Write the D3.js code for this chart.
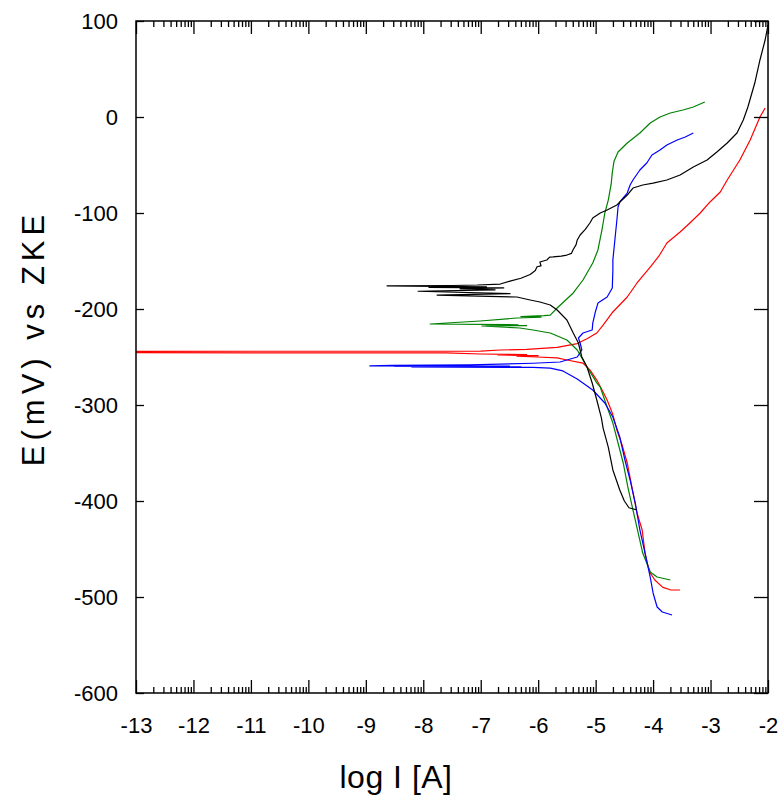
<!DOCTYPE html>
<html>
<head>
<meta charset="utf-8">
<script src="https://cdn.jsdelivr.net/npm/d3@7"></script>
<style>
  body { margin: 0; background: #fff; }
  text { font-family: Arial, "Liberation Sans", sans-serif; fill: #000; }
</style>
</head>
<body>
<div id="chart"></div>
<script>
// axis values
const xTicks = [-13, -12, -11, -10, -9, -8, -7, -6, -5, -4, -3, -2];
const yTicks = [100, 0, -100, -200, -300, -400, -500, -600];

const redCurve = [
  [-3.53, -492.7], [-3.70, -492.5], [-3.83, -490], [-3.97, -482.3], [-4.05, -475], [-4.10, -465],
  [-4.14, -454.2], [-4.19, -430.2], [-4.28, -412.5], [-4.37, -385.4], [-4.45, -360.4], [-4.54, -341.7],
  [-4.63, -326], [-4.71, -308.3], [-4.80, -294.8], [-4.87, -286.5], [-4.98, -274], [-5.10, -263.5],
  [-5.22, -256.3], [-5.50, -253.1], [-5.67, -251], [-6.02, -250], [-6.37, -249.2], [-6.0, -248.5],
  [-6.7, -247.8], [-6.2, -247.5], [-7.01, -246.9], [-7.6, -245.8], [-14, -245.5],
  [-14, -244.2], [-7.0, -243.8], [-6.66, -242.7], [-6.2, -242], [-5.67, -240], [-5.32, -236],
  [-5.15, -231], [-4.98, -225], [-4.87, -216.7], [-4.70, -203.1], [-4.45, -187.5], [-4.28, -172.9],
  [-4.05, -156.3], [-3.90, -145], [-3.76, -131.3], [-3.53, -119.8], [-3.36, -110.4], [-3.18, -100],
  [-3.01, -88.5], [-2.83, -78.1], [-2.71, -65.6], [-2.49, -44.8], [-2.31, -24], [-2.14, 0], [-2.05, 9.4]
];

const blackCurve = [
  [-4.28, -409.4], [-4.42, -407], [-4.50, -400], [-4.58, -388.5], [-4.70, -367.7], [-4.78, -343.8],
  [-4.87, -324], [-4.90, -313.5], [-4.98, -294.8], [-5.06, -277.1], [-5.15, -260.4], [-5.24, -250],
  [-5.30, -235.4], [-5.39, -225], [-5.50, -211.5], [-5.67, -201], [-5.79, -195.8], [-5.97, -192.7],
  [-6.14, -190.6], [-6.37, -187.5],
  [-7.76, -185.5], [-6.49, -184], [-8.09, -181.5], [-6.75, -180], [-7.36, -179], [-6.6, -178],
  [-7.9, -177.5], [-6.9, -177], [-8.63, -176], [-7.5, -175.5], [-7.06, -175], [-6.66, -174],
  [-6.49, -171], [-6.3, -168], [-6.14, -164], [-6.05, -160], [-6.02, -156], [-5.95, -155], [-5.97, -151],
  [-5.85, -149], [-5.80, -146], [-5.74, -145.8], [-5.60, -145], [-5.50, -143.8], [-5.42, -142],
  [-5.39, -138], [-5.34, -133], [-5.32, -128.1], [-5.27, -122.9], [-5.18, -117], [-5.10, -110.4],
  [-5.05, -105.2], [-4.92, -100], [-4.80, -96.9], [-4.63, -91.7], [-4.45, -81.3], [-4.35, -74],
  [-4.18, -70.8], [-4.00, -68.8], [-3.76, -65.6], [-3.53, -60.4], [-3.30, -52.1], [-3.06, -44.8],
  [-2.89, -36.5], [-2.71, -27.1], [-2.54, -16.7], [-2.43, -3.1], [-2.35, 10.4], [-2.23, 35.4],
  [-2.14, 59.4], [-2.05, 80.2], [-2.00, 95.8]
];

const greenCurve = [
  [-3.70, -482.3], [-3.93, -479.2], [-4.05, -474], [-4.18, -454.2], [-4.26, -433.3], [-4.35, -409.4],
  [-4.44, -385.4], [-4.52, -360.4], [-4.61, -339.6], [-4.70, -318.8], [-4.80, -302.1], [-4.92, -281.3],
  [-4.98, -277], [-5.15, -260.4], [-5.32, -242.7], [-5.50, -232.3], [-5.79, -225], [-6.09, -221.9],
  [-6.32, -219.8], [-6.98, -217.7], [-6.2, -217.3], [-6.9, -216.8], [-6.35, -216.4], [-7.88, -215.6],
  [-7.01, -212.5], [-6.37, -209.4], [-5.95, -208.5], [-6.3, -208], [-5.9, -207], [-5.79, -206.3],
  [-5.67, -199], [-5.39, -183.3], [-5.22, -169.8], [-5.05, -152.1], [-4.96, -138.5], [-4.89, -117.7],
  [-4.84, -100], [-4.78, -86.5], [-4.73, -70], [-4.71, -58], [-4.68, -46], [-4.61, -36.5], [-4.45, -27.1],
  [-4.23, -16.7], [-4.05, -6.3], [-3.88, 0], [-3.70, 4.2], [-3.48, 7.3], [-3.30, 10.4], [-3.10, 15.6]
];

const blueCurve = [
  [-3.67, -518.8], [-3.84, -515.6], [-3.93, -510.4], [-4.00, -495.8], [-4.05, -479.2], [-4.14, -454.2],
  [-4.23, -430.2], [-4.31, -402.1], [-4.40, -378.1], [-4.49, -357.3], [-4.58, -333.3], [-4.70, -312.5],
  [-4.84, -297.9], [-5.05, -284.4], [-5.32, -273], [-5.57, -264.5], [-5.79, -261.5], [-6.09, -260.8],
  [-8.2, -260.5], [-6.3, -260.2], [-8.5, -259.8], [-6.5, -259.5], [-8.93, -259.3], [-8.55, -258.6],
  [-7.2, -258.2], [-6.09, -256.5], [-5.62, -255.2], [-5.32, -250], [-5.24, -242.7], [-5.27, -235.4],
  [-5.30, -230.2], [-5.22, -225], [-5.06, -221.9], [-5.05, -214.6], [-5.01, -204.2], [-4.96, -193.8],
  [-4.80, -187.5], [-4.71, -178.1], [-4.70, -159.4], [-4.70, -149], [-4.66, -125], [-4.63, -107.3],
  [-4.61, -93.8], [-4.58, -88.5], [-4.45, -79.2], [-4.40, -70.8], [-4.35, -65.6], [-4.23, -55.2],
  [-4.11, -47.9], [-4.02, -39.6], [-3.88, -34.4], [-3.76, -29.2], [-3.58, -24], [-3.44, -20.8], [-3.30, -16.7]
];

const series = [
  { name: "red", color: "#ff0000", data: redCurve },
  { name: "green", color: "#008000", data: greenCurve },
  { name: "blue", color: "#0000ff", data: blueCurve },
  { name: "black", color: "#000000", data: blackCurve }
];

const width = 784, height = 803;
const margin = { top: 21, right: 16, bottom: 110, left: 136 };
const w = width - margin.left - margin.right;
const h = height - margin.top - margin.bottom;

const svg = d3.select("#chart").append("svg")
  .attr("width", width)
  .attr("height", height);

const g = svg.append("g").attr("transform", `translate(${margin.left},${margin.top})`);

const x = d3.scaleLinear().domain([-13, -2]).range([0, w]);
const y = d3.scaleLinear().domain([-600, 100]).range([h, 0]);

// minor ticks, like a log axis inside each decade
const minorTicks = [];
for (let d = -13; d < -2; d++) {
  for (let k = 2; k <= 9; k++) minorTicks.push(d + Math.log10(k));
}

g.append("clipPath").attr("id", "plot-clip")
  .append("rect").attr("width", w).attr("height", h);

const line = d3.line().x(d => x(d[0])).y(d => y(d[1]));

g.append("g").attr("clip-path", "url(#plot-clip)")
  .selectAll("path")
  .data(series)
  .join("path")
  .attr("fill", "none")
  .attr("stroke", d => d.color)
  .attr("stroke-width", 1.2)
  .attr("stroke-linejoin", "round")
  .attr("d", d => line(d.data));

// plain hyphen like the original, not a minus sign
const fmt = d => String(d);

// axes (ticks point inward)
const bottomMajor = d3.axisBottom(x).tickValues(xTicks).tickSize(-13).tickPadding(24).tickFormat(fmt);
const bottomMinor = d3.axisBottom(x).tickValues(minorTicks).tickSize(-6).tickFormat("");
const topMajor = d3.axisTop(x).tickValues(xTicks).tickSize(-13).tickFormat("");
const topMinor = d3.axisTop(x).tickValues(minorTicks).tickSize(-6).tickFormat("");
const leftAxis = d3.axisLeft(y).tickValues(yTicks).tickSize(-8).tickPadding(18).tickFormat(fmt);
const rightAxis = d3.axisRight(y).tickValues(yTicks).tickSize(-14).tickFormat("");

const axes = [
  [bottomMinor, `translate(0,${h})`],
  [bottomMajor, `translate(0,${h})`],
  [topMinor, "translate(0,0)"],
  [topMajor, "translate(0,0)"],
  [leftAxis, "translate(0,0)"],
  [rightAxis, `translate(${w},0)`]
];
axes.forEach(([ax, tr]) => {
  const a = g.append("g").attr("transform", tr).call(ax);
  a.select(".domain").remove();
  a.selectAll("line").attr("stroke", "#000").attr("stroke-width", 1.3);
  a.selectAll("text").style("font-size", "22px").attr("fill", "#000");
});

g.append("rect")
  .attr("width", w).attr("height", h)
  .attr("fill", "none").attr("stroke", "#000").attr("stroke-width", 1.5);

// axis titles
svg.append("text")
  .attr("x", 396)
  .attr("y", 788)
  .attr("text-anchor", "middle")
  .style("font-size", "32px")
  .style("letter-spacing", "0.5px")
  .text("log I [A]");

svg.append("text")
  .attr("transform", `translate(44,338) rotate(-90)`)
  .attr("text-anchor", "middle")
  .style("font-size", "31px")
  .style("letter-spacing", "5px")
  .text("E(mV) vs ZKE");
</script>
</body>
</html>
